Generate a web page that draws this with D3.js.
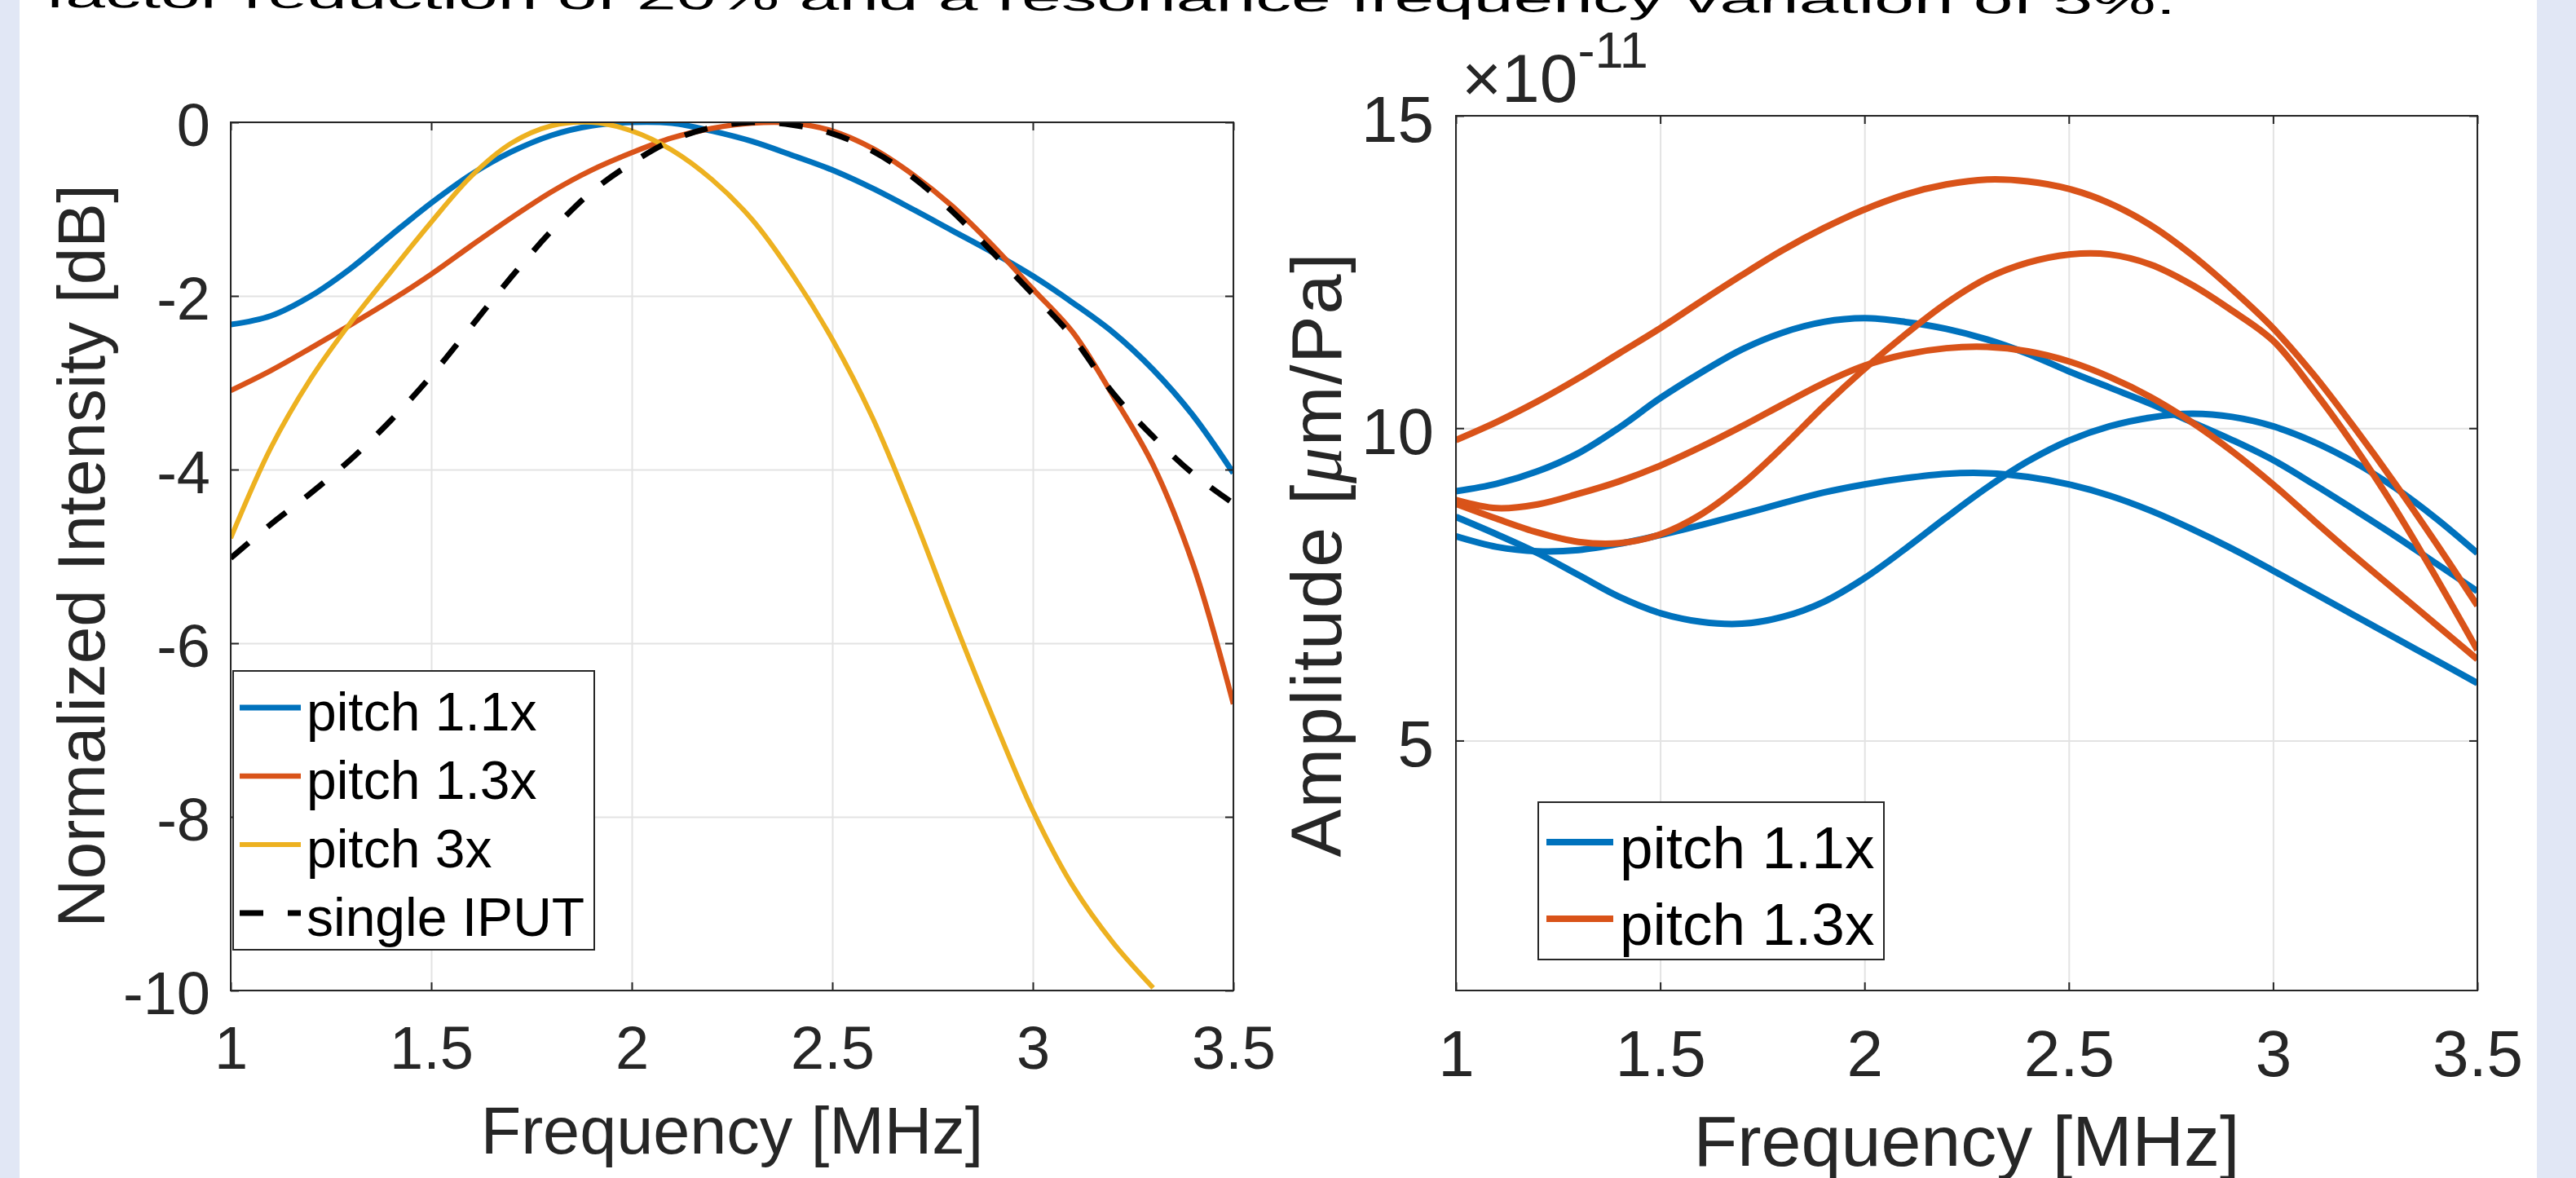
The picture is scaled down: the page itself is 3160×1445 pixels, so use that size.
<!DOCTYPE html>
<html>
<head>
<meta charset="utf-8">
<script src="https://cdn.jsdelivr.net/npm/d3@7"></script>
<style>
html, body { margin: 0; padding: 0; background: #e1e7f5; }
svg { display: block; }
text { font-family: "Liberation Sans", Arial, Helvetica, sans-serif; }
</style>
</head>
<body>
<svg id="fig" width="3160" height="1445"></svg>
<script>
// frequency grid shared by every curve [MHz]
var freq = [1.0, 1.1, 1.2, 1.3, 1.4, 1.5, 1.6, 1.7, 1.8, 1.9, 2.0, 2.1, 2.2,
            2.3, 2.4, 2.5, 2.6, 2.7, 2.8, 2.9, 3.0, 3.1, 3.2, 3.3, 3.4, 3.5];

// left panel: normalized intensity [dB]
var pitch11Db = [-2.33, -2.23, -2.0, -1.68, -1.3, -0.93, -0.6, -0.34, -0.15, -0.04, 0, -0.01, -0.1,
                 -0.22, -0.38, -0.55, -0.76, -1.0, -1.25, -1.5, -1.77, -2.08, -2.42, -2.85, -3.38, -4.04];
var pitch13Db = [-3.09, -2.86, -2.6, -2.33, -2.05, -1.75, -1.42, -1.1, -0.8, -0.55, -0.35, -0.18, -0.07,
                 -0.01, -0.01, -0.1, -0.3, -0.6, -0.97, -1.42, -1.92, -2.42, -3.15, -3.95, -5.1, -6.7];
var pitch3Db = [-4.79, -3.75, -2.95, -2.3, -1.72, -1.15, -0.62, -0.24, -0.04, 0, -0.1, -0.32, -0.66,
                -1.12, -1.75, -2.5, -3.4, -4.5, -5.7, -6.85, -7.93, -8.8, -9.45, -9.97, null, null];
var singleIputDb = [-5.02, -4.63, -4.27, -3.88, -3.43, -2.92, -2.35, -1.78, -1.25, -0.8, -0.47, -0.21, -0.06,
                    0, -0.03, -0.13, -0.33, -0.63, -1.03, -1.5, -1.98, -2.48, -3.12, -3.62, -4.05, -4.39];

// right panel: amplitude [x1e-11 um/Pa], three runs per pitch
var amp11a = [8.99, 9.11, 9.31, 9.60, 10.01, 10.48, 10.89, 11.26, 11.53, 11.70, 11.76, 11.70, 11.59,
              11.42, 11.19, 10.91, 10.65, 10.39, 10.10, 9.81, 9.49, 9.1, 8.69, 8.27, 7.83, 7.39];
var amp11b = [8.58, 8.3, 8.0, 7.65, 7.3, 7.04, 6.9, 6.87, 6.98, 7.22, 7.6, 8.07, 8.57,
              9.05, 9.47, 9.8, 10.03, 10.17, 10.23, 10.18, 10.03, 9.78, 9.45, 9.04, 8.55, 8.0];
var amp11c = [8.27, 8.1, 8.03, 8.05, 8.15, 8.29, 8.45, 8.62, 8.8, 8.97, 9.1, 9.2, 9.27,
              9.28, 9.22, 9.1, 8.92, 8.68, 8.39, 8.07, 7.72, 7.36, 7.0, 6.64, 6.28, 5.92];
var amp13a = [9.81, 10.1, 10.43, 10.8, 11.2, 11.6, 12.03, 12.45, 12.85, 13.2, 13.5, 13.74, 13.9,
              13.98, 13.95, 13.83, 13.6, 13.25, 12.78, 12.22, 11.6, 10.85, 10.0, 9.1, 8.15, 7.16];
var amp13b = [8.79, 8.55, 8.33, 8.18, 8.16, 8.3, 8.62, 9.1, 9.7, 10.35, 10.95, 11.5, 12.0,
              12.4, 12.65, 12.78, 12.78, 12.62, 12.3, 11.88, 11.4, 10.6, 9.7, 8.7, 7.6, 6.45];
var amp13c = [8.85, 8.72, 8.78, 8.95, 9.15, 9.4, 9.7, 10.03, 10.38, 10.72, 11.0, 11.18, 11.28,
              11.3, 11.23, 11.07, 10.82, 10.5, 10.1, 9.63, 9.1, 8.52, 7.95, 7.4, 6.85, 6.3];

var freqTicks = [1, 1.5, 2, 2.5, 3, 3.5];
var dbTicks = [0, -2, -4, -6, -8, -10];
var ampTicks = [5, 10, 15];

var BLUE = "#0072BD", ORANGE = "#D95319", YELLOW = "#EDB120", AXIS = "#262626";

var svg = d3.select("#fig");

svg.append("rect").attr("x", 24).attr("y", 0).attr("width", 3088).attr("height", 1445).attr("fill", "#fff");

// caption line cut off by the top edge
svg.append("text")
    .attr("transform", "translate(56,9) rotate(0.175) scale(1,0.55)")
    .attr("font-size", 84)
    .attr("fill", "#000")
    .attr("textLength", 2613)
    .attr("lengthAdjust", "spacingAndGlyphs")
    .text("factor reduction of 20% and a resonance frequency variation of 5%.");

function drawPanel(p) {
    var w = p.right - p.left, h = p.bottom - p.top;
    var g = svg.append("g").attr("transform", "translate(" + p.left + "," + p.top + ")");
    var x = d3.scaleLinear().domain([1, 3.5]).range([0, w]);
    var y = d3.scaleLinear().domain(p.yDomain).range([h, 0]);

    // grid
    var gx = g.append("g").call(d3.axisBottom(x).tickValues(freqTicks).tickSize(h).tickFormat(""));
    var gy = g.append("g").call(d3.axisLeft(y).tickValues(p.yTicks).tickSize(-w).tickFormat(""));
    [gx, gy].forEach(function (a) {
        a.select(".domain").remove();
        a.selectAll("line").attr("stroke", "#e3e3e3").attr("stroke-width", 2);
    });

    g.append("clipPath").attr("id", p.id + "-clip")
        .append("rect").attr("width", w).attr("height", h);

    var line = d3.line()
        .defined(function (d) { return d[1] !== null; })
        .x(function (d) { return x(d[0]); })
        .y(function (d) { return y(d[1]); })
        .curve(d3.curveCatmullRom.alpha(0.5));

    g.append("g").attr("clip-path", "url(#" + p.id + "-clip)")
        .selectAll("path")
        .data(p.series)
        .join("path")
        .attr("d", function (s) { return line(freq.map(function (f, i) { return [f, s.values[i]]; })); })
        .attr("fill", "none")
        .attr("stroke", function (s) { return s.color; })
        .attr("stroke-width", function (s) { return s.width; })
        .attr("stroke-dasharray", function (s) { return s.dash; })
        .attr("stroke-linejoin", "round");

    // box and inward ticks
    g.append("rect").attr("width", w).attr("height", h)
        .attr("fill", "none").attr("stroke", AXIS).attr("stroke-width", 2);
    var tickAxes = [
        [d3.axisBottom(x).tickValues(freqTicks), "translate(0," + h + ")"],
        [d3.axisTop(x).tickValues(freqTicks), null],
        [d3.axisLeft(y).tickValues(p.yTicks), null],
        [d3.axisRight(y).tickValues(p.yTicks), "translate(" + w + ",0)"]
    ];
    tickAxes.forEach(function (t) {
        var a = g.append("g").attr("transform", t[1]).call(t[0].tickSize(-10).tickFormat(""));
        a.select(".domain").remove();
        a.selectAll("line").attr("stroke", AXIS).attr("stroke-width", 2);
    });

    // tick labels
    var xl = g.append("g").attr("transform", "translate(0," + h + ")")
        .call(d3.axisBottom(x).tickValues(freqTicks).tickSize(0).tickPadding(p.xPad)
            .tickFormat(function (d) { return String(d); }));
    var yl = g.append("g")
        .call(d3.axisLeft(y).tickValues(p.yTicks).tickSize(0).tickPadding(p.yPad)
            .tickFormat(function (d) { return String(d); }));
    [xl, yl].forEach(function (a) {
        a.select(".domain").remove();
        a.attr("font-family", null).attr("font-size", p.tickFont).attr("color", AXIS);
    });
    yl.selectAll("text").attr("dy", "0.39em");

    // axis titles
    g.append("text")
        .attr("x", w / 2).attr("y", p.xTitleY - p.top)
        .attr("text-anchor", "middle").attr("font-size", p.titleFont).attr("fill", AXIS)
        .text("Frequency [MHz]");

    return {g: g, x: x, y: y, w: w, h: h};
}

function drawLegend(l, series) {
    var lg = svg.append("g").attr("transform", "translate(" + l.x + "," + l.y + ")");
    lg.append("rect").attr("width", l.w).attr("height", l.h)
        .attr("fill", "#fff").attr("stroke", AXIS).attr("stroke-width", 2);
    var rows = lg.selectAll("g.row").data(series).join("g")
        .attr("class", "row")
        .attr("transform", function (d, i) { return "translate(0," + (l.first + i * l.step) + ")"; });
    rows.append("line")
        .attr("x1", l.lx1).attr("x2", l.lx2)
        .attr("stroke", function (d) { return d.color; })
        .attr("stroke-width", function (d) { return d.width; })
        .attr("stroke-dasharray", function (d) { return d.dash; });
    rows.append("text")
        .attr("x", l.tx).attr("y", l.base)
        .attr("font-size", l.font).attr("fill", "#000")
        .text(function (d) { return d.name; });
}

// ---- left panel
var leftSeries = [
    {name: "pitch 1.1x", values: pitch11Db, color: BLUE, width: 7, dash: null},
    {name: "pitch 1.3x", values: pitch13Db, color: ORANGE, width: 6.5, dash: null},
    {name: "pitch 3x", values: pitch3Db, color: YELLOW, width: 6, dash: null},
    {name: "single IPUT", values: singleIputDb, color: "#000", width: 7, dash: "29,30"}
];
drawPanel({
    id: "left", left: 283, right: 1513, top: 150, bottom: 1215,
    yDomain: [-10, 0], yTicks: dbTicks, series: leftSeries,
    xPad: 43, yPad: 25, tickFont: 74, titleFont: 81, xTitleY: 1415
});
svg.append("text")
    .attr("transform", "translate(128,682) rotate(-90)")
    .attr("text-anchor", "middle").attr("font-size", 82).attr("fill", AXIS)
    .text("Normalized Intensity [dB]");
drawLegend({x: 286, y: 823, w: 443, h: 342, first: 45, step: 84, lx1: 8, lx2: 83,
            tx: 90, base: 28, font: 66}, leftSeries);

// ---- right panel
var rightSeries = [
    {name: "pitch 1.1x", values: amp11a, color: BLUE, width: 8, dash: null},
    {name: "pitch 1.1x", values: amp11b, color: BLUE, width: 8, dash: null},
    {name: "pitch 1.1x", values: amp11c, color: BLUE, width: 8, dash: null},
    {name: "pitch 1.3x", values: amp13a, color: ORANGE, width: 8, dash: null},
    {name: "pitch 1.3x", values: amp13b, color: ORANGE, width: 8, dash: null},
    {name: "pitch 1.3x", values: amp13c, color: ORANGE, width: 8, dash: null}
];
drawPanel({
    id: "right", left: 1786, right: 3039, top: 142, bottom: 1215,
    yDomain: [1, 15], yTicks: ampTicks, series: rightSeries,
    xPad: 48, yPad: 27, tickFont: 80, titleFont: 88, xTitleY: 1430
});
var ylab = svg.append("text")
    .attr("transform", "translate(1645,681) rotate(-90)")
    .attr("text-anchor", "middle").attr("font-size", 88).attr("fill", AXIS)
    .attr("textLength", 741).attr("lengthAdjust", "spacing");
ylab.append("tspan").text("Amplitude [");
ylab.append("tspan").attr("font-family", "'Liberation Serif', 'DejaVu Serif', serif")
    .attr("font-style", "italic").text("\u03bc");
ylab.append("tspan").text("m/Pa]");

var expo = svg.append("text").attr("x", 1793).attr("y", 125).attr("fill", AXIS).attr("font-size", 84);
expo.append("tspan").text("\u00d710");
expo.append("tspan").attr("font-size", 63).attr("dy", -42).text("-11");

drawLegend({x: 1887, y: 984, w: 424, h: 193, first: 49, step: 94, lx1: 10, lx2: 92,
            tx: 100, base: 32, font: 73},
           [rightSeries[0], rightSeries[3]]);
</script>
</body>
</html>
